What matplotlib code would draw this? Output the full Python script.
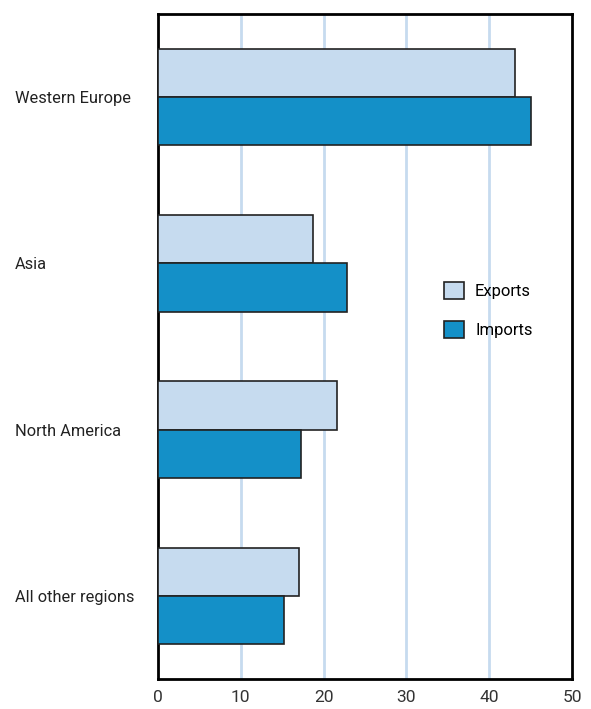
import matplotlib.pyplot as plt
import numpy as np

regions = ["Western Europe", "Asia", "North America", "All other regions"]
exports = [43.1, 18.7, 21.6, 17.0]
imports = [45.1, 22.8, 17.3, 15.2]
xticks = [0, 10, 20, 30, 40, 50]

plt.rcParams['font.family'] = ['Roboto', 'DejaVu Sans']

fig = plt.figure(figsize=(5.91, 7.09), dpi=100)
ax = fig.add_axes([158 / 591, 1 - 679 / 709, 414 / 591, 665 / 709])

y = np.arange(len(regions))
h = 0.29
ax.barh(y - h / 2, exports, height=h, color='#c6dbef', edgecolor='#222222',
        linewidth=1.2, label='Exports', zorder=3)
ax.barh(y + h / 2, imports, height=h, color='#1490c8', edgecolor='#222222',
        linewidth=1.2, label='Imports', zorder=3)

ax.set_xlim(0, 50)
ax.set_ylim(len(regions) - 0.5, -0.5)
ax.set_xticks(xticks)
ax.set_xticklabels([str(t) for t in xticks], fontsize=12.5, color='#333333')
ax.set_yticks(y)
ax.set_yticklabels(regions, fontsize=11.8, color='#222222', ha='left')
ax.tick_params(axis='y', length=0, pad=103)
ax.tick_params(axis='x', length=0, pad=8)

for t in xticks[1:-1]:
    ax.axvline(t, color='#c6dbef', linewidth=2, zorder=1)

for s in ax.spines.values():
    s.set_linewidth(2)
    s.set_color('black')

ax.legend(loc='center left', bbox_to_anchor=(0.655, 0.555), frameon=False,
          fontsize=12, handlelength=1.2, handleheight=1.2, labelspacing=1.35,
          handletextpad=0.65)

fig.savefig('out.png', dpi=100)
